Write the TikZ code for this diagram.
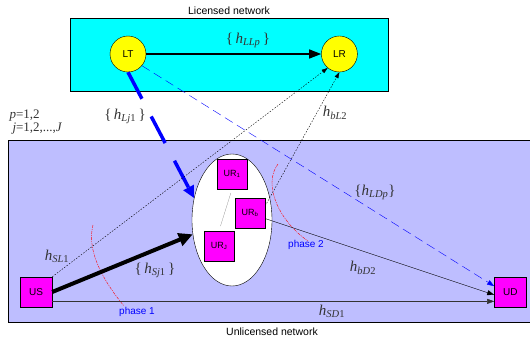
\documentclass[tikz,border=0pt]{standalone}
\usepackage{amsmath}
\usepackage{fontspec}
\setsansfont{Liberation Sans}
\newfontfamily\labelfont{Liberation Serif}
\usepackage{tikz}
\usetikzlibrary{positioning,arrows.meta,shapes.geometric}
\definecolor{lilac}{RGB}{190,190,255}
\definecolor{aqua}{RGB}{0,255,255}
\definecolor{pink}{RGB}{255,0,255}
\definecolor{lemon}{RGB}{255,255,0}
\newcommand{\sub}[1]{\textsubscript{#1}}
\tikzset{
netbox/.style={
draw,
inner sep=0pt
},
station/.style={
circle,
draw,
fill=lemon,
minimum size=36pt,
inner sep=0pt,
font=\sffamily\fontsize{10}{12}\selectfont
},
user/.style={
draw,
fill=pink,
minimum width=32pt,
minimum height=30pt,
inner sep=0pt,
font=\sffamily\fontsize{10}{12}\selectfont
},
relay/.style={
draw,
fill=pink,
minimum size=30pt,
inner sep=0pt,
font=\sffamily\fontsize{9}{11}\selectfont
},
caption/.style={
font=\sffamily\fontsize{10.5}{12}\selectfont
},
chan/.style={
text=black!80,
font=\labelfont\fontsize{15}{17}\selectfont
},
phase/.style={
blue,
font=\sffamily\fontsize{10}{12}\selectfont
},
boundary/.style={
red,
thin,
dash pattern=on 3pt off 1pt on 1pt off 1pt
},
arrow/.style={
-{Triangle[length=7pt,width=5pt]},
thin
},
dotlink/.style={
-{Triangle[length=6pt,width=4pt]},
thin,
dash pattern=on 1.5pt off 1.5pt
}
}
\begin{document}
\begin{tikzpicture}[x=1pt,y=-1pt]
\useasboundingbox (0,0) rectangle (530,341);
\node[netbox,fill=aqua,minimum width=318pt,minimum height=73pt](lic) at (229,54.5){};
\node[caption,above=0pt of lic](licname){Licensed network};
\node[netbox,fill=lilac,minimum width=528pt,minimum height=182pt](unl) at (272,231){};
\node[caption,below=2pt of unl](unlname){Unlicensed network};

\node[station](lt) at (128,54){LT};
\node[station,right=175pt of lt](lr){LR};
\node[user](us) at (36,292){US};
\node[user,right=442pt of us](ud){UD};
\node[ellipse,draw,fill=white,minimum width=80pt,minimum height=132pt](cl) at (232,220){};
\node[relay](ur1) at (232,174){UR\sub{1}};
\node[relay](urb) at (250,213){UR\sub{b}};
\node[relay](urj) at (219,246){UR\sub{J}};
\draw[gray,very thin,shorten <=4pt,shorten >=5pt](ur1.south)--(urj.north);

\draw[boundary](93,225) .. controls (86,252) and (105,283) .. (124,306);
\draw[boundary](278,164) .. controls (262,185) and (280,222) .. (308,241);
\node[phase](ph1) at (137,312){phase 1};
\node[phase](ph2) at (306,245){phase 2};

\draw[line width=1.2pt,-{Triangle[length=12pt,width=9pt]}](lt)--(lr);
\draw[arrow,blue,dash pattern=on 9pt off 5pt](lt.-40)--(ud.160);
\draw[blue,line width=3.5pt,dash pattern=on 30pt off 20pt,-{Triangle[length=12pt,width=11pt]}](lt.south)--(cl.150);
\draw[line width=4pt,-{Triangle[length=14pt,width=13pt]}](us.east)--(cl.200);
\foreach \x/\y in {us.north east/lr.230,urb.25/lr.south}
\draw[dotlink](\x)--(\y);
\draw[arrow](urb.-20)--(ud.-170);
\draw[arrow,black!80](us.-30)--(us.-30 -| ud.west);

\node[chan](hllp) at (248,40){\{\,\textit{h}\sub{\textit{LLp}}\,\}};
\node[chan](hlj) at (125,116){\{\,\textit{h}\sub{\textit{Lj}1}\,\}};
\node[chan](hbl) at (335,113){\textit{h}\sub{\textit{bL}2}};
\node[chan](hldp) at (375,192){\{\textit{h}\sub{\textit{LDp}}\}};
\node[chan](hsl) at (57,256){\textit{h}\sub{\textit{SL}1}};
\node[chan](hsj) at (155,270){\{\,\textit{h}\sub{\textit{Sj}1}\,\}};
\node[chan](hbd) at (363,268){\textit{h}\sub{\textit{bD}2}};
\node[chan](hsd) at (332,311){\textit{h}\sub{\textit{SD}1}};
\node[chan,anchor=west,font=\labelfont\fontsize{13}{15}\selectfont](pidx) at (6,116){\textit{p}=1,2};
\node[chan,anchor=west,font=\labelfont\fontsize{13}{15}\selectfont](jidx) at (9,129){\textit{j}=1,2,...,\textit{J}};
\end{tikzpicture}
\end{document}
